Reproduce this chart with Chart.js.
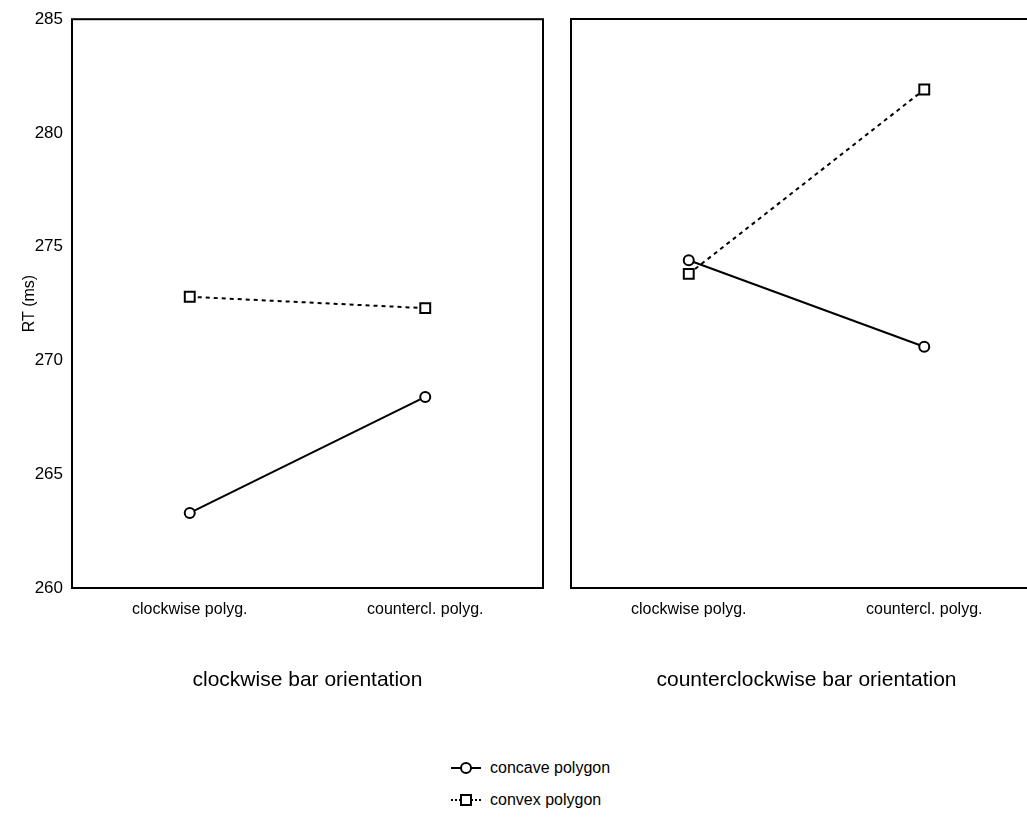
<!DOCTYPE html>
<html>
<head>
<meta charset="utf-8">
<script src="https://cdn.jsdelivr.net/npm/chart.js@4/dist/chart.umd.min.js"></script>
<style>
  html, body { margin: 0; padding: 0; background: #fff; overflow: hidden; }
  body { width: 1027px; height: 819px; position: relative; font-family: "Liberation Sans", Arial, sans-serif; }
  canvas { position: absolute; top: 0; }
  #left { left: 0; }
  #right { left: 562px; }
  .legend { position: absolute; left: 450px; font-size: 16px; color: #000; }
  .legend div { height: 32px; display: flex; align-items: center; }
  .legend svg { margin-right: 8px; }
</style>
</head>
<body>
<canvas id="left" width="552" height="700"></canvas>
<canvas id="right" width="489" height="700"></canvas>
<div class="legend" style="top: 752px;">
  <div><svg width="32" height="14"><line x1="1" y1="7" x2="31" y2="7" stroke="#000" stroke-width="2"/><circle cx="16" cy="7" r="5" fill="#fff" stroke="#000" stroke-width="2"/></svg>concave polygon</div>
  <div><svg width="32" height="14"><line x1="1" y1="7" x2="31" y2="7" stroke="#000" stroke-width="2" stroke-dasharray="2,2"/><rect x="11" y="2" width="10" height="10" fill="#fff" stroke="#000" stroke-width="2"/></svg>convex polygon</div>
</div>
<script>
  const categories = ["clockwise polyg.", "countercl. polyg."];
  const panels = ["clockwise bar orientation", "counterclockwise bar orientation"];
  // RT (ms) per panel
  const concaveCw = [263.3, 268.4];
  const convexCw = [272.8, 272.3];
  const concaveCcw = [274.4, 270.6];
  const convexCcw = [273.8, 281.9];
  const yTicks = [260, 265, 270, 275, 280, 285];

  const font = "'Liberation Sans', Arial, sans-serif";

  // full box round the plot area
  const boxPlugin = {
    id: "box",
    afterDraw(chart) {
      const a = chart.chartArea;
      const ctx = chart.ctx;
      ctx.save();
      ctx.strokeStyle = "#000";
      ctx.lineWidth = 2;
      ctx.strokeRect(a.left, a.top, a.right - a.left, a.bottom - a.top);
      ctx.restore();
    },
  };

  function makePanel(id, title, concave, convex, showY) {
    const ctx = document.getElementById(id).getContext("2d");
    return new Chart(ctx, {
      type: "line",
      data: {
        labels: categories,
        datasets: [
          {
            label: "concave polygon",
            data: concave,
            borderColor: "#000",
            borderWidth: 2,
            pointStyle: "circle",
            pointRadius: 5,
            pointBorderWidth: 2,
            pointBackgroundColor: "#fff",
            pointBorderColor: "#000",
            tension: 0,
          },
          {
            label: "convex polygon",
            data: convex,
            borderColor: "#000",
            borderWidth: 2,
            borderDash: [4, 4],
            pointStyle: "rect",
            pointRadius: 7,
            pointBorderWidth: 2,
            pointBackgroundColor: "#fff",
            pointBorderColor: "#000",
            tension: 0,
          },
        ],
      },
      options: {
        responsive: false,
        animation: false,
        layout: { padding: { top: 19, right: 1, left: 0, bottom: 0 } },
        plugins: {
          legend: { display: false },
          tooltip: { enabled: false },
        },
        scales: {
          x: {
            offset: true,
            grid: { display: false, drawTicks: false },
            border: { display: false },
            ticks: { color: "#000", font: { family: font, size: 16 }, padding: 12, maxRotation: 0 },
            title: {
              display: true,
              text: title,
              color: "#000",
              font: { family: font, size: 21 },
              padding: { top: 0, bottom: 7 },
            },
            afterFit(s) { s.height = 112; },
          },
          y: {
            display: showY,
            min: 260,
            max: 285,
            grid: { display: false, drawTicks: false },
            border: { display: false },
            afterBuildTicks(s) { s.ticks = yTicks.map((v) => ({ value: v })); },
            ticks: { color: "#000", font: { family: font, size: 17 }, padding: 9 },
            title: {
              display: true,
              text: "RT (ms)",
              color: "#000",
              font: { family: font, size: 16 },
              padding: { top: 20, bottom: 0 },
            },
            afterFit(s) { s.width = showY ? 72 : 0; },
          },
        },
      },
      plugins: [boxPlugin],
    });
  }

  makePanel("left", panels[0], concaveCw, convexCw, true);
  makePanel("right", panels[1], concaveCcw, convexCcw, false);
</script>
</body>
</html>
